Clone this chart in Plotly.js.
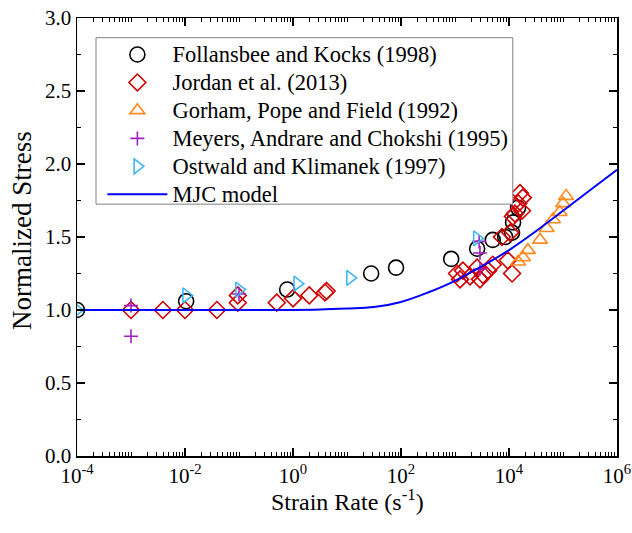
<!DOCTYPE html>
<html>
<head>
<meta charset="utf-8">
<script src="https://cdn.plot.ly/plotly-3.0.1.min.js"></script>
<style>html,body{margin:0;padding:0;background:#fff;}#chart{width:632px;height:533px;}</style>
</head>
<body>
<div id="chart"></div>
<script>
// Follansbee and Kocks (1998)
const fkX = [1e-4, 0.0105, 0.78, 28, 81, 850, 2570, 5000, 8500, 11400, 11900, 14700];
const fkY = [1.0, 1.06, 1.14, 1.25, 1.29, 1.35, 1.42, 1.48, 1.50, 1.53, 1.60, 1.70];
// Jordan et al. (2013)
const jX = [0.001, 0.0039, 0.01, 0.039, 0.095, 0.095, 0.5, 1.0, 2.0, 3.9, 4.2,
            1090, 1400, 1900, 2560, 3300, 4100, 2900, 1240, 5000,
            7400, 10500, 11800, 12900, 14800, 16000, 18000, 17400, 9500, 11400];
const jY = [1.0, 1.0, 1.0, 1.0, 1.05, 1.10, 1.05, 1.08, 1.10, 1.12, 1.13,
            1.25, 1.27, 1.23, 1.29, 1.24, 1.27, 1.21, 1.21, 1.31,
            1.50, 1.53, 1.64, 1.66, 1.73, 1.80, 1.77, 1.68, 1.34, 1.25];
// Gorham, Pope and Field (1992)
const gX = [14700, 18200, 22400, 37500, 50000, 65000, 87000, 100000, 114000];
const gY = [1.33, 1.36, 1.41, 1.48, 1.56, 1.62, 1.67, 1.73, 1.78];
// Meyers, Andrare and Chokshi (1995)
const mX = [0.001, 0.001, 0.1, 2800, 2900, 2900];
const mY = [1.03, 0.82, 1.11, 1.47, 1.39, 1.28];
// Ostwald and Klimanek (1997)
const oX = [1e-4, 0.0105, 0.1, 1.2, 11.4, 2550];
const oY = [1.0, 1.10, 1.14, 1.18, 1.22, 1.49];
// MJC model
const mjcX = [1e-4, 1e-3, 1e-2, 1e-1, 1, 3.16, 10, 31.6, 100, 316, 1000, 3160, 1e4, 3.16e4, 1e5, 3.16e5, 1e6];
const mjcY = [1.0, 1.0, 1.0, 1.0, 1.0, 1.003, 1.01, 1.02, 1.055, 1.12, 1.20, 1.30, 1.41, 1.54, 1.68, 1.82, 1.96];
// series names
const names = ['Follansbee and Kocks (1998)', 'Jordan et al. (2013)', 'Gorham, Pope and Field (1992)',
               'Meyers, Andrare and Chokshi (1995)', 'Ostwald and Klimanek (1997)', 'MJC model'];
// axis tick labels
const xTickVals = [1e-4, 1e-2, 1, 1e2, 1e4, 1e6];
const xTickText = ['10<sup>-4</sup>', '10<sup>-2</sup>', '10<sup>0</sup>', '10<sup>2</sup>', '10<sup>4</sup>', '10<sup>6</sup>'];

const font = '"Liberation Serif", "Times New Roman", serif';
const legName = n => '<span style="font-size:22.5px">' + n + '</span>';
function sc(name, x, y, symbol, color, size) {
  return {type: 'scatter', mode: 'markers', name: legName(name), x: x, y: y,
    marker: {symbol: symbol, size: size, color: color, line: {color: color, width: 1.6}}};
}
const traces = [
  sc(names[0], fkX, fkY, 'circle-open', '#000000', 15),
  sc(names[1], jX, jY, 'diamond-open', '#d00000', 13),
  sc(names[2], gX, gY, 'triangle-up-open', '#ff8a20', 13),
  sc(names[3], mX, mY, 'cross-thin-open', '#a020c0', 10),
  sc(names[4], oX, oY, 'triangle-right-open', '#3fb6f5', 13),
  {type: 'scatter', mode: 'lines', name: legName(names[5]), x: mjcX, y: mjcY,
   line: {color: '#0000ff', width: 2, shape: 'spline'}}
];

// minor tick positions (1..9 per decade)
const minorVals = [];
for (let d = -4; d < 6; d++) for (let k = 1; k <= 9; k++) minorVals.push(k * Math.pow(10, d));

const layout = {
  width: 632, height: 533,
  margin: {l: 77, r: 15, t: 18, b: 77},
  paper_bgcolor: '#fff', plot_bgcolor: '#fff',
  font: {family: font, size: 20, color: '#000'},
  showlegend: true,
  legend: {x: 0.047, y: 0.960, xanchor: 'left', yanchor: 'top',
    borderwidth: 0, bgcolor: 'rgba(255,255,255,0)', itemwidth: 60,
    font: {family: font, size: 19.2, color: '#000'}, tracegroupgap: 0},
  shapes: [
    {type: 'rect', xref: 'paper', yref: 'paper', x0: 0.0352, x1: 0.807, y0: 0.575, y1: 0.955,
     line: {color: '#808080', width: 1}, fillcolor: '#ffffff', layer: 'above'}
  ],
  xaxis: {type: 'log', range: [-4, 6], tickmode: 'array', tickvals: xTickVals, ticktext: xTickText,
    showgrid: false, zeroline: false, showline: true, linecolor: '#000', linewidth: 1.5,
    mirror: 'ticks', ticks: 'inside', ticklen: 8, tickwidth: 1.2, tickcolor: '#000',
    minor: {ticks: 'inside', tickmode: 'array', tickvals: minorVals, ticklen: 4, tickwidth: 1, tickcolor: '#000', showgrid: false},
    tickfont: {family: font, size: 21}},
  yaxis: {range: [0, 3], dtick: 0.5, tickformat: '.1f',
    showgrid: false, zeroline: false, showline: true, linecolor: '#000', linewidth: 1.5,
    mirror: 'ticks', ticks: 'inside', ticklen: 8, tickwidth: 1.2, tickcolor: '#000',
    minor: {ticks: 'inside', dtick: 0.25, ticklen: 4, tickwidth: 1, tickcolor: '#000', showgrid: false},
    tickfont: {family: font, size: 21}},
  annotations: [
    {text: 'Strain Rate (s<sup>-1</sup>)', xref: 'paper', yref: 'paper', x: 0.5, y: -0.101,
     xanchor: 'center', yanchor: 'middle', showarrow: false, font: {family: font, size: 24}},
    {text: 'Normalized Stress', xref: 'paper', yref: 'paper', x: -0.102, y: 0.516, textangle: -90,
     xanchor: 'center', yanchor: 'middle', showarrow: false, font: {family: font, size: 27}}
  ]
};
Plotly.newPlot('chart', traces, layout, {displayModeBar: false, staticPlot: true});
</script>
</body>
</html>
